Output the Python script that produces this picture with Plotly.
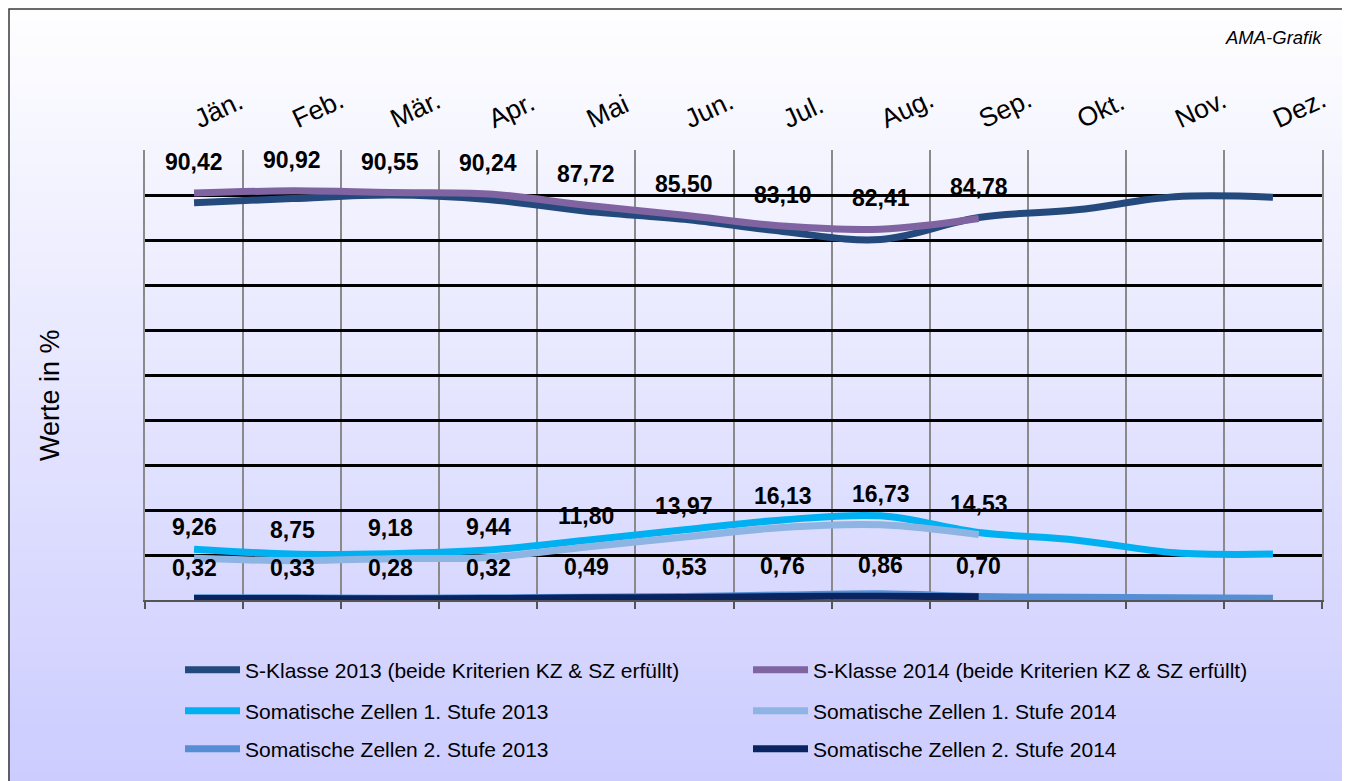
import plotly.graph_objects as go

# ---------------- data ----------------
months = ["Jän.", "Feb.", "Mär.", "Apr.", "Mai", "Jun.", "Jul.", "Aug.", "Sep.", "Okt.", "Nov.", "Dez."]

s_klasse_2013 = [88.3, 89.2, 90.0, 89.0, 86.4, 84.6, 81.9, 80.1, 85.0, 86.7, 89.6, 89.5]
s_klasse_2014 = [90.42, 90.92, 90.55, 90.24, 87.72, 85.50, 83.10, 82.41, 84.78]

sz1_2013 = [11.3, 10.2, 10.3, 11.1, 13.3, 15.6, 17.8, 18.7, 15.0, 13.3, 10.5, 10.2]
sz1_2014 = [9.26, 8.75, 9.18, 9.44, 11.80, 13.97, 16.13, 16.73, 14.53]

sz2_2013 = [0.5, 0.5, 0.4, 0.5, 0.6, 0.8, 1.1, 1.4, 0.8, 0.6, 0.5, 0.4]
sz2_2014 = [0.32, 0.33, 0.28, 0.32, 0.49, 0.53, 0.76, 0.86, 0.70]

names = [
    "S-Klasse 2013 (beide Kriterien KZ & SZ erfüllt)",
    "S-Klasse 2014 (beide Kriterien KZ & SZ erfüllt)",
    "Somatische Zellen 1. Stufe 2013",
    "Somatische Zellen 1. Stufe 2014",
    "Somatische Zellen 2. Stufe 2013",
    "Somatische Zellen 2. Stufe 2014",
]
colors = ["#24497C", "#8064A2", "#00B0F0", "#8DB4E2", "#558ED5", "#0A2461"]
series = [s_klasse_2013, s_klasse_2014, sz1_2013, sz1_2014, sz2_2013, sz2_2014]
labelled = [False, True, False, True, False, True]
legend_ids = ["legend", "legend", "legend2", "legend2", "legend3", "legend3"]

FONT = "Liberation Sans, Arial, sans-serif"

# ---------------- geometry (page body has an 8px margin) ----------------
OFF = 8
W, H = 1350 - OFF, 781 - OFF
L, R, T, B = 137, 28, 142, 181
PW, PH = W - L - R, H - T - B


def px_x(sx):
    return (sx - OFF - L) / PW


def px_y(sy):
    return (H - B - (sy - OFF)) / PH


fig = go.Figure()

for name, col, vals, leg in zip(names, colors, series, legend_ids):
    fig.add_trace(go.Scatter(
        x=months[:len(vals)], y=vals, name=name, mode="lines",
        line=dict(color=col, width=7, shape="spline", smoothing=1.0),
        legend=leg, hoverinfo="skip",
    ))

# invisible helper trace so the top month axis is drawn
fig.add_trace(go.Scatter(
    x=list(range(len(months))), y=s_klasse_2013, xaxis="x2", mode="markers",
    marker=dict(opacity=0), showlegend=False, hoverinfo="skip",
))

# data labels
annotations = []
for vals, lab in zip(series, labelled):
    if not lab:
        continue
    for m, v in zip(months, vals):
        annotations.append(dict(
            x=m, y=v, xref="x", yref="y", yshift=31, showarrow=False,
            text="<b>" + f"{v:.2f}".replace(".", ",") + "</b>",
            font=dict(family=FONT, size=23, color="black"),
            xanchor="center", yanchor="middle",
        ))

annotations.append(dict(
    x=px_x(1325), y=px_y(37), xref="paper", yref="paper", showarrow=False,
    text="<i>AMA-Grafik</i>", font=dict(family=FONT, size=18.5, color="black"),
    xanchor="right", yanchor="middle",
))
annotations.append(dict(
    x=px_x(50), y=px_y(395), xref="paper", yref="paper", showarrow=False,
    text="Werte in %", textangle=-90, font=dict(family=FONT, size=27, color="black"),
    xanchor="center", yanchor="middle",
))

# background gradient stripes (white -> lavender)
shapes = []
n = 110
step = 781 / n
for i in range(n):
    t = (i + 0.5) / n
    c = round(255 - 51 * t)
    shapes.append(dict(
        type="rect", xref="paper", yref="paper", layer="below",
        x0=px_x(-20), x1=px_x(1370), y0=px_y(i * step - 1), y1=px_y((i + 1) * step + 1),
        fillcolor=f"rgb({c},{c},255)", line=dict(width=0),
    ))
shapes.append(dict(
    type="rect", xref="paper", yref="paper", layer="above",
    x0=px_x(9), x1=px_x(1360), y0=px_y(9), y1=px_y(800),
    fillcolor="rgba(0,0,0,0)", line=dict(color="#3a3a3a", width=1.5),
))

leg_common = dict(
    orientation="h", xref="container", yref="container",
    entrywidth=498, entrywidthmode="pixels", itemwidth=55,
    font=dict(family=FONT, size=21, color="black"),
    bgcolor="rgba(0,0,0,0)", borderwidth=0, xanchor="left", yanchor="middle",
    traceorder="normal",
)


def leg_y(sy):
    return (H - (sy - OFF)) / H


fig.update_layout(
    width=W, height=H,
    margin=dict(l=L, r=R, t=T, b=B, pad=0, autoexpand=False),
    paper_bgcolor="rgba(0,0,0,0)", plot_bgcolor="rgba(0,0,0,0)",
    font=dict(family=FONT, color="black"),
    showlegend=True,
    legend=dict(leg_common, x=(180 - OFF) / W, y=leg_y(670)),
    legend2=dict(leg_common, x=(180 - OFF) / W, y=leg_y(711)),
    legend3=dict(leg_common, x=(180 - OFF) / W, y=leg_y(749)),
    xaxis=dict(
        type="category", categoryorder="array", categoryarray=months,
        range=[-0.5, len(months) - 0.5], tickson="boundaries",
        showgrid=True, gridcolor="#8a8a8a", gridwidth=1.5,
        showline=True, linecolor="#555555", linewidth=1.5,
        ticks="outside", ticklen=7, tickcolor="#555555", tickwidth=1.5,
        showticklabels=False, zeroline=False,
    ),
    xaxis2=dict(
        overlaying="x", side="top", anchor="y",
        range=[-0.5, len(months) - 0.5],
        tickmode="array", tickvals=list(range(len(months))), ticktext=months,
        tickangle=-25, showgrid=False, showline=False, zeroline=False,
        ticks="", ticklabelstandoff=14,
        tickfont=dict(family=FONT, size=26.5, color="black"),
    ),
    yaxis=dict(
        range=[0, 100], tickmode="array", tickvals=list(range(10, 100, 10)),
        showgrid=True, gridcolor="black", gridwidth=2.5,
        showline=True, linecolor="#8a8a8a", linewidth=2, mirror=True,
        showticklabels=False, ticks="", zeroline=False,
    ),
    annotations=annotations,
    shapes=shapes,
)

fig.write_html("out.html")
